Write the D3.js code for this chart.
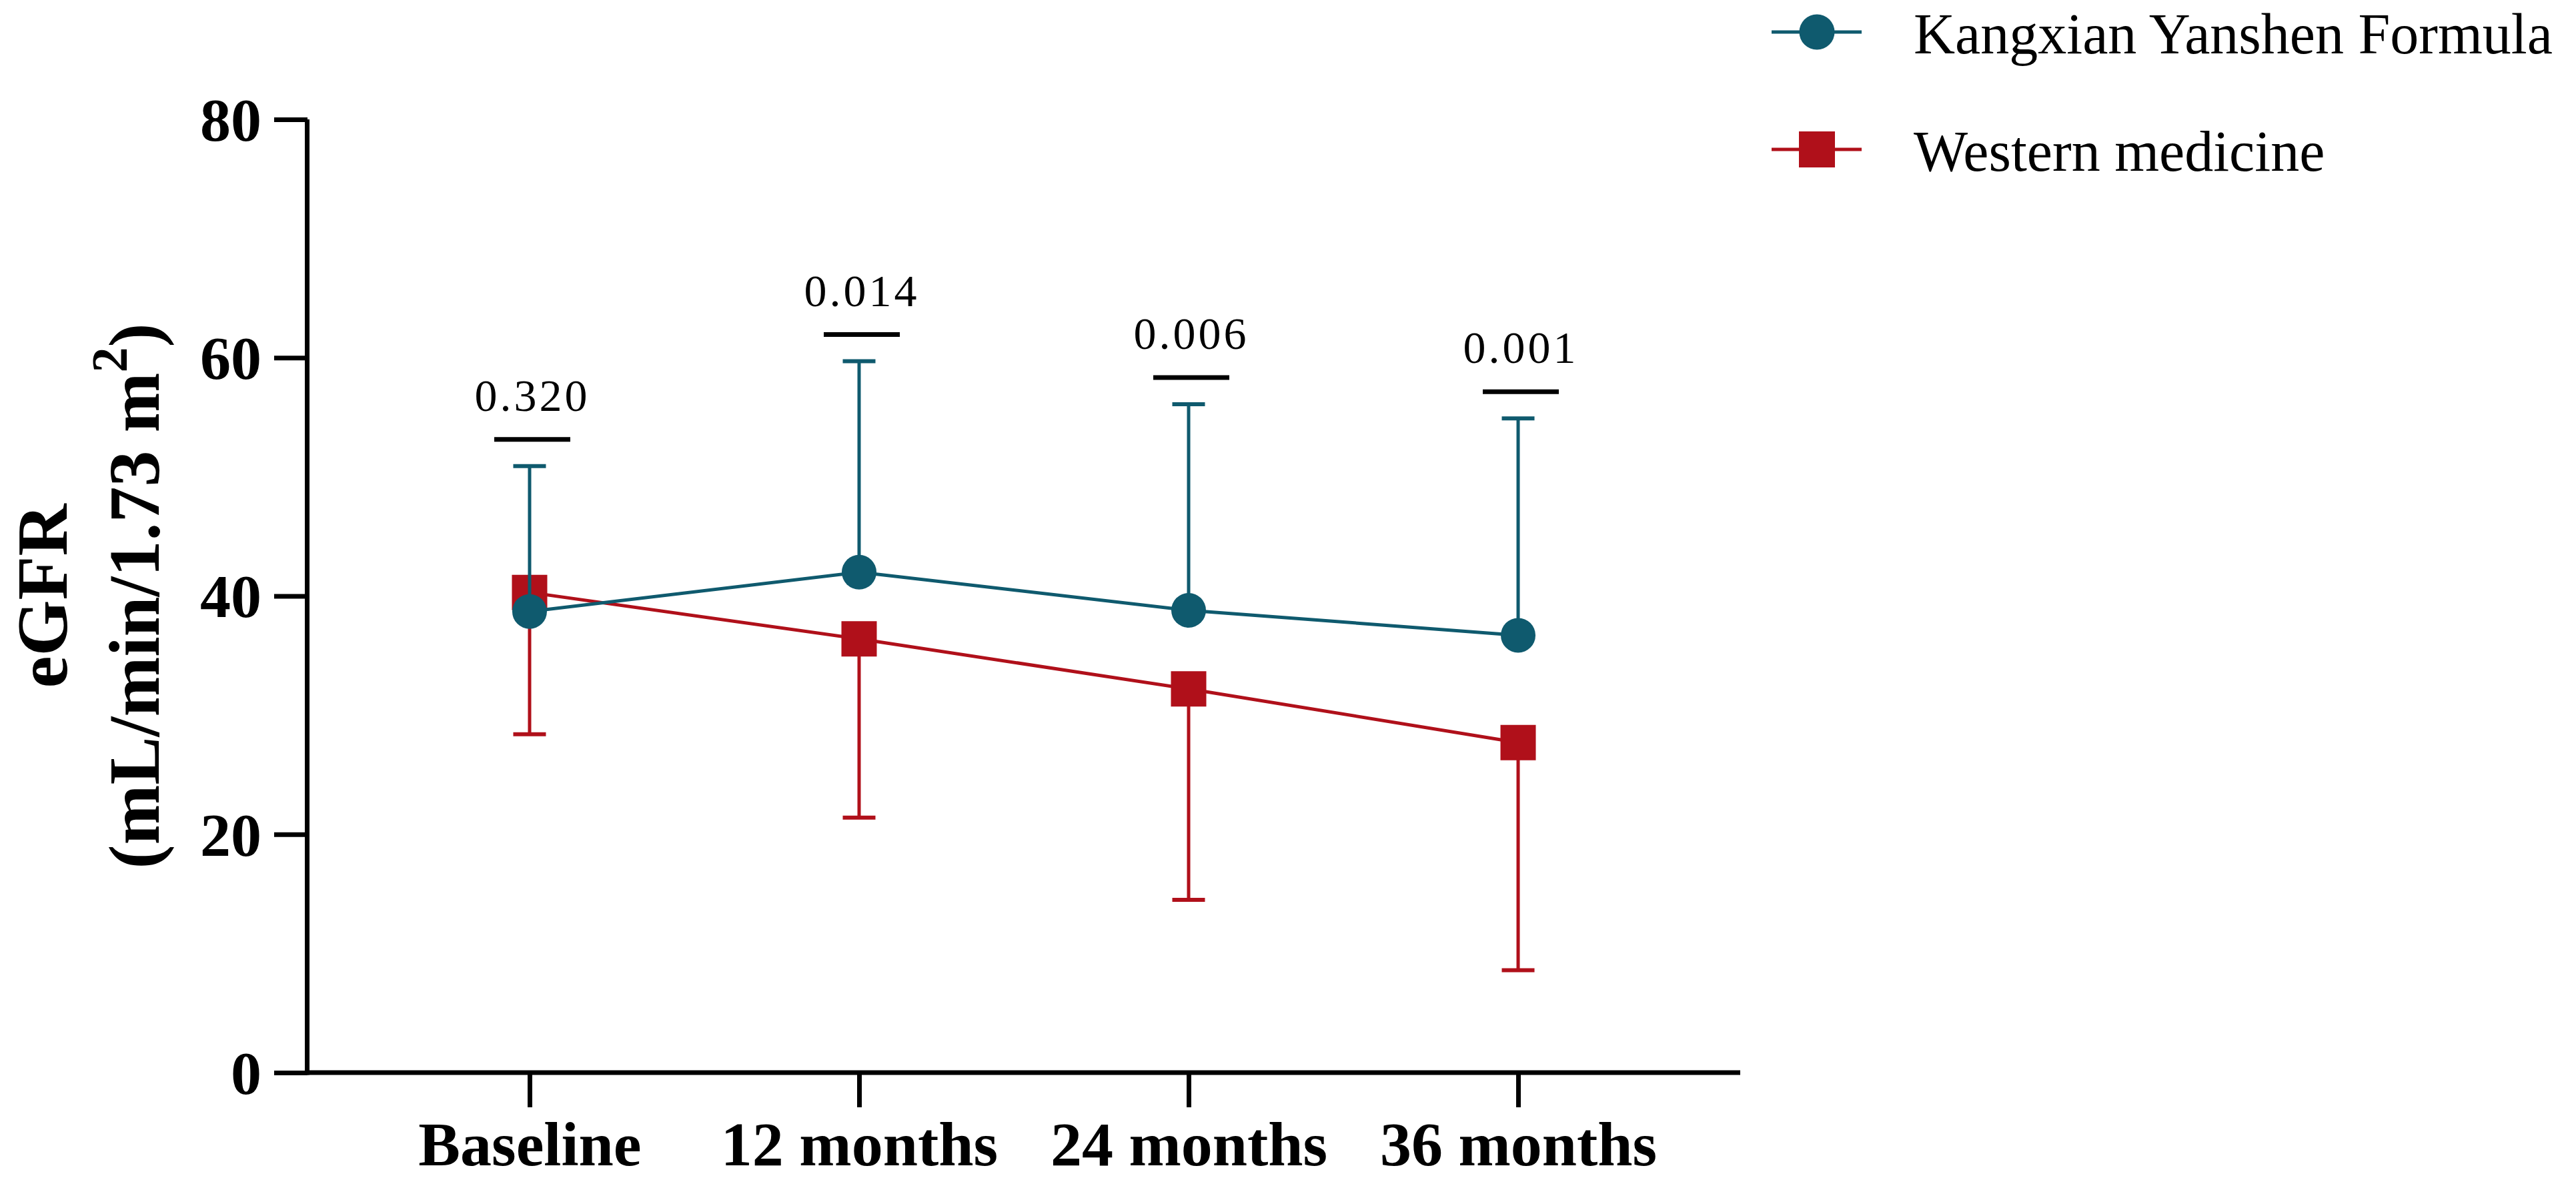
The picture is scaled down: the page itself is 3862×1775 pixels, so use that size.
<!DOCTYPE html>
<html>
<head>
<meta charset="utf-8">
<script src="https://cdn.jsdelivr.net/npm/d3@7"></script>
<style>
  html, body { margin: 0; padding: 0; background: #fff; }
  svg { display: block; }
  text { font-family: "Liberation Serif", "Times New Roman", serif; fill: #000; }
</style>
</head>
<body>
<svg id="chart" width="3862" height="1775"></svg>
<script>
// ---- data ----
const categories = ["Baseline", "12 months", "24 months", "36 months"];
const kangxianMean = [38.7, 42.0, 38.8, 36.7];
const kangxianSD   = [12.2, 17.7, 17.3, 18.2];
const westernMean  = [40.3, 36.4, 32.2, 27.7];
const westernSD    = [11.9, 15.0, 17.7, 19.1];
const pValues      = ["0.320", "0.014", "0.006", "0.001"];
const yTicks       = [0, 20, 40, 60, 80];
const seriesNames  = ["Kangxian Yanshen Formula", "Western medicine"];

// ---- layout ----
const W = 3862, H = 1775;
const axisLeft = 461, axisRight = 2609, axisTop = 179, axisBottom = 1608;
const teal = "#0f5a6e", red = "#b0101a";

const svg = d3.select("#chart");

const x = d3.scalePoint().domain(categories).range([axisLeft, axisRight]).padding(0.674);
const y = d3.scaleLinear().domain([0, 80]).range([axisBottom, axisTop]);

// ---- axes ----
const yAxis = d3.axisLeft(y).tickValues(yTicks).tickSize(50).tickPadding(19).tickFormat(d3.format("d"));
const gy = svg.append("g").attr("transform", `translate(${axisLeft},0)`).call(yAxis);
gy.select(".domain").attr("stroke", "#000").attr("stroke-width", 7).attr("d", `M-0.5,${axisTop}V${axisBottom + 3.5}`);
gy.selectAll(".tick line").attr("stroke", "#000").attr("stroke-width", 7);
gy.selectAll(".tick text")
  .attr("font-family", "Liberation Serif, serif")
  .attr("font-weight", "bold").attr("font-size", 92).attr("dy", "0.34em");

const xAxis = d3.axisBottom(x).tickSize(52).tickPadding(20);
const gx = svg.append("g").attr("transform", `translate(0,${axisBottom})`).call(xAxis);
gx.select(".domain").attr("stroke", "#000").attr("stroke-width", 7).attr("d", `M${axisLeft - 3.5},0H${axisRight}`);
gx.selectAll(".tick line").attr("stroke", "#000").attr("stroke-width", 7);
gx.selectAll(".tick text")
  .attr("font-family", "Liberation Serif, serif")
  .attr("font-weight", "bold").attr("font-size", 94).attr("dy", "0.71em");

// ---- y axis title ----
const yMid = (axisTop + axisBottom) / 2;
svg.append("text")
  .attr("transform", `translate(100,${yMid}) rotate(-90)`)
  .attr("text-anchor", "middle").attr("font-weight", "bold").attr("font-size", 108)
  .text("eGFR");
const t2 = svg.append("text")
  .attr("transform", `translate(238,${yMid}) rotate(-90)`)
  .attr("text-anchor", "middle").attr("font-weight", "bold").attr("font-size", 108);
t2.append("tspan").text("(mL/min/1.73 m");
t2.append("tspan").attr("font-size", 76).attr("dy", -48).text("2");
t2.append("tspan").attr("dy", 48).text(")");

// ---- series ----
const series = [
  { name: seriesNames[1], mean: westernMean, sd: westernSD, color: red, dir: -1, shape: "square" },
  { name: seriesNames[0], mean: kangxianMean, sd: kangxianSD, color: teal, dir: 1, shape: "circle" }
];

const line = d3.line().x((d, i) => x(categories[i])).y(d => y(d));
const capHalf = 24.5;

series.forEach(s => {
  const g = svg.append("g");
  g.append("path").datum(s.mean).attr("d", line)
    .attr("fill", "none").attr("stroke", s.color).attr("stroke-width", 5);
  const eb = g.selectAll(".eb").data(s.mean.map((m, i) => ({ c: categories[i], m, e: m + s.dir * s.sd[i] })))
    .enter().append("g");
  eb.append("line")
    .attr("x1", d => x(d.c)).attr("x2", d => x(d.c))
    .attr("y1", d => y(d.m)).attr("y2", d => y(d.e))
    .attr("stroke", s.color).attr("stroke-width", 5);
  eb.append("line")
    .attr("x1", d => x(d.c) - capHalf).attr("x2", d => x(d.c) + capHalf)
    .attr("y1", d => y(d.e)).attr("y2", d => y(d.e))
    .attr("stroke", s.color).attr("stroke-width", 6);
  const sym = d3.symbol().type(s.shape === "circle" ? d3.symbolCircle : d3.symbolSquare)
    .size(s.shape === "circle" ? Math.PI * 26 * 26 : 53 * 53);
  g.selectAll(".mk").data(s.mean).enter().append("path")
    .attr("d", sym)
    .attr("transform", (d, i) => `translate(${x(categories[i])},${y(d)})`)
    .attr("fill", s.color);
});

// ---- p-value annotations ----
const pg = svg.append("g");
pValues.forEach((p, i) => {
  const top = Math.max(kangxianMean[i] + kangxianSD[i], westernMean[i]);
  const by = y(top) - 40;
  const cx = x(categories[i]) + 4;
  pg.append("line").attr("x1", cx - 57).attr("x2", cx + 57)
    .attr("y1", by).attr("y2", by).attr("stroke", "#000").attr("stroke-width", 7);
  pg.append("text").attr("x", cx).attr("y", by - 43)
    .attr("text-anchor", "middle").attr("font-size", 68).attr("letter-spacing", 4)
    .text(p);
});

// ---- legend ----
const legend = [
  { name: seriesNames[0], color: teal, shape: "circle", cy: 48 },
  { name: seriesNames[1], color: red, shape: "square", cy: 224 }
];
const lg = svg.append("g");
legend.forEach(l => {
  lg.append("line").attr("x1", 2656).attr("x2", 2791).attr("y1", l.cy).attr("y2", l.cy)
    .attr("stroke", l.color).attr("stroke-width", 5);
  const sym = d3.symbol().type(l.shape === "circle" ? d3.symbolCircle : d3.symbolSquare)
    .size(l.shape === "circle" ? Math.PI * 26.5 * 26.5 : 54 * 54);
  lg.append("path").attr("d", sym).attr("transform", `translate(2724,${l.cy})`).attr("fill", l.color);
  lg.append("text").attr("x", 2869).attr("y", l.cy + 32).attr("font-size", 86).text(l.name);
});
</script>
</body>
</html>
